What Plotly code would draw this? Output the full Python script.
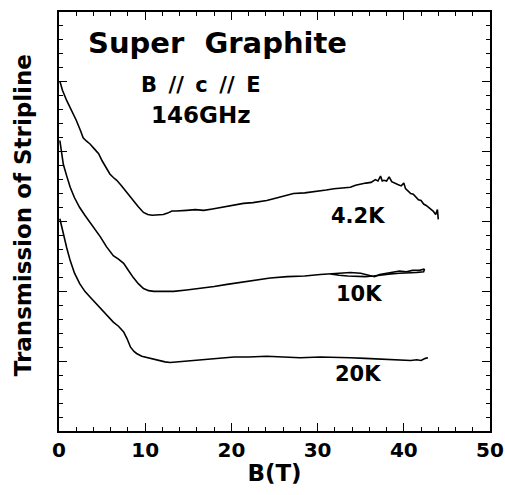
import plotly.graph_objects as go

# ---- data ----
b_42 = [0.1, 0.4, 0.9, 1.5, 2.0, 2.5, 2.8, 3.2, 3.6, 4.1, 4.6, 5.0, 5.5, 5.9, 6.3, 6.7, 7.2, 7.7, 8.1, 8.6,
        9.2, 9.8, 10.3, 10.8, 11.5, 12.1, 12.6, 13.1, 13.6, 14.2, 14.8, 15.8, 16.8, 17.8, 18.7, 19.8, 20.6,
        21.4, 22.5, 23.3, 24.1, 25.0, 26.2, 27.2, 28.5, 30.0, 31.0, 31.9, 32.9, 33.8, 34.4, 35.0, 35.6, 36.2,
        36.7, 37.0, 37.3, 37.5, 37.7, 38.0, 38.3, 38.6, 38.9, 39.3, 39.7, 40.0, 40.2, 40.5, 40.8, 41.1, 41.4,
        41.7, 42.0, 42.3, 42.6, 42.9, 43.1, 43.4, 43.7, 43.9, 44.0]
t_42 = [5.01, 4.88, 4.73, 4.58, 4.45, 4.30, 4.20, 4.15, 4.11, 4.04, 3.97, 3.87, 3.76, 3.68, 3.63, 3.59, 3.52,
        3.44, 3.38, 3.30, 3.21, 3.13, 3.10, 3.09, 3.09, 3.10, 3.12, 3.15, 3.15, 3.16, 3.16, 3.17, 3.16, 3.18,
        3.20, 3.22, 3.24, 3.26, 3.27, 3.28, 3.30, 3.33, 3.37, 3.40, 3.41, 3.43, 3.45, 3.47, 3.48, 3.49, 3.52,
        3.54, 3.55, 3.56, 3.60, 3.58, 3.65, 3.58, 3.59, 3.58, 3.64, 3.57, 3.55, 3.53, 3.51, 3.55, 3.47, 3.44,
        3.40, 3.39, 3.35, 3.31, 3.30, 3.25, 3.23, 3.20, 3.17, 3.15, 3.10, 3.17, 3.03]

b_10 = [0.1, 0.3, 0.5, 0.9, 1.3, 1.8, 2.4, 3.0, 3.6, 4.2, 4.8, 5.5, 6.3, 6.9, 7.5, 8.0, 8.6, 9.2, 9.8, 10.4,
        11.0, 12.0, 13.3, 14.8, 16.4, 18.0, 19.5, 21.0, 22.6, 24.5, 26.5, 28.5, 30.3, 31.5, 32.7, 33.8, 35.0,
        36.0, 36.6, 37.2, 38.0, 38.8, 39.5, 40.3, 41.0, 41.8, 42.4]
t_10 = [4.16, 3.98, 3.82, 3.65, 3.49, 3.34, 3.20, 3.09, 2.99, 2.89, 2.78, 2.64, 2.51, 2.46, 2.40, 2.31, 2.20,
        2.11, 2.04, 2.01, 2.00, 2.00, 2.00, 2.02, 2.04, 2.07, 2.10, 2.13, 2.16, 2.19, 2.21, 2.22, 2.24, 2.25,
        2.26, 2.27, 2.26, 2.23, 2.21, 2.24, 2.26, 2.27, 2.29, 2.28, 2.30, 2.30, 2.32]
b_10_down = [42.4, 42.3, 41.5, 40.5, 39.5, 38.5, 37.5, 36.5, 35.5, 34.5, 33.5, 32.5, 31.5]
t_10_down = [2.32, 2.28, 2.27, 2.27, 2.26, 2.25, 2.23, 2.22, 2.21, 2.21, 2.22, 2.23, 2.25]

b_20 = [0.1, 0.3, 0.5, 0.9, 1.3, 1.8, 2.4, 3.0, 3.6, 4.2, 4.8, 5.5, 6.3, 6.9, 7.5, 7.9, 8.3, 8.7, 9.0, 9.6,
        10.2, 11.0, 11.7, 12.3, 12.9, 13.8, 14.8, 16.5, 18.3, 20.3, 22.0, 24.1, 26.0, 28.0, 30.3, 32.0, 33.8,
        35.5, 37.7, 39.5, 40.8, 41.5, 42.0, 42.5, 42.8]
t_20 = [3.04, 2.93, 2.82, 2.62, 2.44, 2.26, 2.11, 2.00, 1.92, 1.84, 1.75, 1.66, 1.56, 1.50, 1.42, 1.32, 1.20,
        1.14, 1.11, 1.07, 1.05, 1.03, 1.01, 0.99, 0.98, 0.99, 1.00, 1.02, 1.04, 1.06, 1.06, 1.07, 1.06, 1.05,
        1.06, 1.05, 1.05, 1.04, 1.03, 1.02, 1.01, 1.02, 1.01, 1.04, 1.05]

curve_labels = ["4.2K", "10K", "20K"]
label_b = [34.7, 34.8, 34.7]
label_t = [3.08, 1.96, 0.82]

x_ticks = [0, 10, 20, 30, 40, 50]

FONT = "DejaVu Sans"

fig = go.Figure()
line = dict(color="black", width=1.6)
for bx, ty in [(b_42, t_42), (b_10, t_10), (b_10_down, t_10_down), (b_20, t_20)]:
    fig.add_trace(go.Scatter(x=bx, y=ty, mode="lines", line=line, showlegend=False))

for lab, lx, ly in zip(curve_labels, label_b, label_t):
    fig.add_annotation(x=lx, y=ly, text=f"<b>{lab}</b>", showarrow=False,
                       font=dict(family=FONT, size=21, color="black"))

gap = " \u2009"
fig.add_annotation(x=18.4, y=5.55, text="<b>Super  Graphite</b>", showarrow=False,
                   font=dict(family=FONT, size=29, color="black"))
fig.add_annotation(x=16.5, y=4.96, text="<b>B" + gap + "//" + gap + "c" + gap + "//" + gap + "E</b>",
                   showarrow=False, font=dict(family=FONT, size=21, color="black"))
fig.add_annotation(x=16.5, y=4.52, text="<b>146GHz</b>", showarrow=False,
                   font=dict(family=FONT, size=23, color="black"))

# y-axis title placed as a rotated annotation
fig.add_annotation(xref="paper", yref="paper", x=-0.083, y=(431 - 215) / 419, xanchor="center", yanchor="middle",
                   text="<b>Transmission of Stripline</b>", textangle=-90, showarrow=False,
                   font=dict(family=FONT, size=23, color="black"))

axis_common = dict(showline=True, linecolor="black", linewidth=1.5, mirror="ticks",
                   ticks="inside", ticklen=8, tickwidth=1.2, tickcolor="black",
                   showgrid=False, zeroline=False, automargin=False)

fig.update_xaxes(range=[0, 50], tickvals=x_ticks, ticktext=[f"<b>{v}</b>" for v in x_ticks],
                 tickfont=dict(family=FONT, size=20, color="black"),
                 minor=dict(dtick=2, ticklen=4, tickwidth=1, tickcolor="black", ticks="inside"),
                 title=dict(text="<b>B(T)</b>", font=dict(family=FONT, size=23, color="black"), standoff=4),
                 **axis_common)
fig.update_yaxes(range=[0, 6], dtick=1, showticklabels=False,
                 minor=dict(dtick=0.2, ticklen=4, tickwidth=1, tickcolor="black", ticks="inside"),
                 **axis_common)

fig.update_layout(width=505, height=495, margin=dict(l=59, r=15, t=12, b=64),
                  plot_bgcolor="white", paper_bgcolor="white")

fig.write_html("out.html")
